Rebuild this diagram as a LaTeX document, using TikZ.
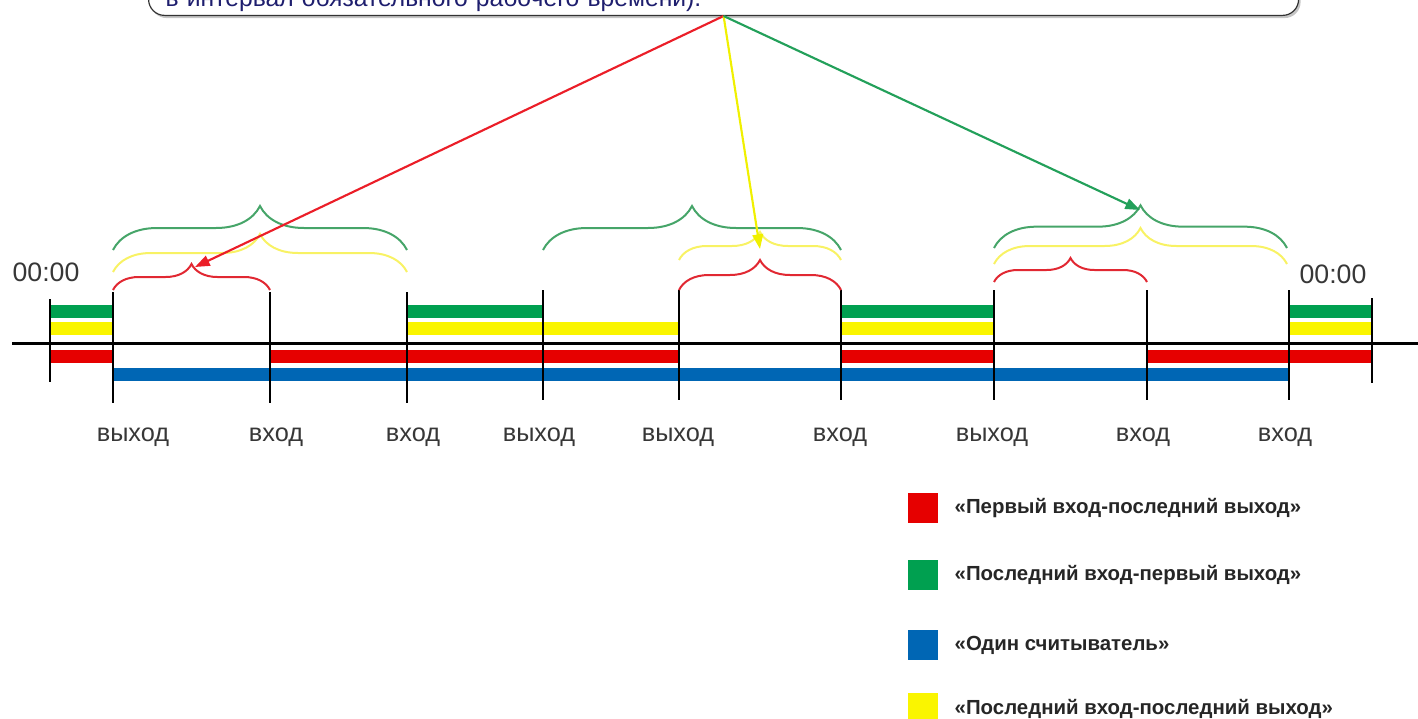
\documentclass[tikz,border=0pt]{standalone}
\usepackage{fontspec}
\setmainfont{Liberation Sans}
\usepackage{tikz}
\usetikzlibrary{arrows.meta, decorations.pathreplacing, shadows}
\usepackage{xcolor}

\definecolor{barred}{RGB}{230,0,0}
\definecolor{bargreen}{RGB}{0,160,80}
\definecolor{baryellow}{RGB}{250,245,0}
\definecolor{barblue}{RGB}{0,102,180}
\definecolor{brgreen}{RGB}{70,165,105}
\definecolor{bryellow}{RGB}{248,242,100}
\definecolor{brred}{RGB}{225,40,50}
\definecolor{arrgreen}{RGB}{35,160,90}
\definecolor{arryellow}{RGB}{240,240,0}
\definecolor{arrred}{RGB}{235,30,40}
\definecolor{notetext}{RGB}{30,30,110}
\definecolor{labelgray}{RGB}{55,55,55}

\begin{document}
\begin{tikzpicture}[
    x=0.75pt, y=-0.75pt,
    bar/.style={line width=9.75pt},
    tick/.style={line width=2.2pt, black},
    curly/.style={decorate, decoration={brace, amplitude=#1}, line width=1.5pt},
    arrow/.style={-{Triangle[length=11pt, width=8pt]}, line width=1.6pt},
    lbl/.style={font=\fontsize{19}{21}\selectfont, text=labelgray},
    clock/.style={font=\fontsize{20}{22}\selectfont, text=labelgray},
    legend/.style={font=\bfseries\fontsize{15.3}{17}\selectfont, text=black!85, anchor=west},
    swatch/.style={minimum size=22.5pt, inner sep=0pt},
    notebox/.style={
        draw=black!80,
        line width=0.9pt,
        fill=white,
        rounded corners=12pt,
        drop shadow={shadow xshift=1.5pt, shadow yshift=-2pt, fill=black!45},
        anchor=south west,
        text width=837pt,
        align=left,
        inner xsep=12.75pt,
        inner ysep=3.25pt,
        text height=40pt,
        text depth=3.5pt,
        font=\fontsize{18.5}{20}\selectfont,
        text=notetext
    }
]
\clip (0,0) rectangle (1418,718);

% Note at the top (cut by the page)
\node[notebox] (note) at (148,16) {в интервал обязательного рабочего времени).};

% Bars
\draw[bar, bargreen] (50,311) -- (113,311);
\draw[bar, bargreen] (407,311) -- (543,311);
\draw[bar, bargreen] (841,311) -- (994,311);
\draw[bar, bargreen] (1289,311) -- (1372,311);

\draw[bar, baryellow] (50,328) -- (113,328);
\draw[bar, baryellow] (407,328) -- (679,328);
\draw[bar, baryellow] (841,328) -- (994,328);
\draw[bar, baryellow] (1289,328) -- (1372,328);

\draw[bar, barred] (50,356) -- (113,356);
\draw[bar, barred] (270,356) -- (679,356);
\draw[bar, barred] (841,356) -- (994,356);
\draw[bar, barred] (1147,356) -- (1372,356);

\draw[bar, barblue] (113,374) -- (1289,374);

% Time axis
\draw[line width=2.25pt] (12,343) -- (1418,343);

% Ticks
\draw[tick] (50,299) -- (50,382);
\draw[tick] (113,292) -- (113,403);
\draw[tick] (270,292) -- (270,403);
\draw[tick] (407,292) -- (407,403);
\draw[tick] (543,290) -- (543,400);
\draw[tick] (679,290) -- (679,400);
\draw[tick] (841,290) -- (841,400);
\draw[tick] (994,290) -- (994,400);
\draw[tick] (1147,290) -- (1147,400);
\draw[tick] (1289,290) -- (1289,400);
\draw[tick] (1372,298) -- (1372,383);

% Braces
\draw[curly=33pt, brgreen] (113,250) -- (407,250);
\draw[curly=33pt, brgreen] (543,250) -- (841,250);
\draw[curly=32pt, brgreen] (994,248) -- (1287,248);

\draw[curly=28.5pt, bryellow] (113,272) -- (407,272);
\draw[curly=21pt, bryellow] (679,260) -- (841,260);
\draw[curly=27pt, bryellow] (994,264) -- (1287,264);

\draw[curly=19.5pt, brred] (113,290) -- (270,290);
\draw[curly=22.5pt, brred] (679,290) -- (841,290);
\draw[curly=18pt, brred] (994,282) -- (1147,282);

\coordinate (redtip) at (195,267);
\coordinate (yellowtip) at (760,249);
\coordinate (greentip) at (1140,210);

% Arrows
\draw[arrow, arrred] (note.south) -- (redtip);
\draw[arrow, arryellow] (note.south) -- (yellowtip);
\draw[arrow, arrgreen] (note.south) -- (greentip);

% Midnight marks
\node[clock] (start) at (46,272) {00:00};
\node[clock] (finish) at (1333,274) {00:00};

% Labels
\node[lbl] (l1) at (133,437) {выход};
\node[lbl] (l2) at (276,437) {вход};
\node[lbl] (l3) at (413,437) {вход};
\node[lbl] (l4) at (539,437) {выход};
\node[lbl] (l5) at (678,437) {выход};
\node[lbl] (l6) at (840,437) {вход};
\node[lbl] (l7) at (992,437) {выход};
\node[lbl] (l8) at (1143,437) {вход};
\node[lbl] (l9) at (1285,437) {вход};

% Legend
\node[swatch, fill=barred] (kred) at (923,508) {};
\node[swatch, fill=bargreen] (kgreen) at (923,575) {};
\node[swatch, fill=barblue] (kblue) at (923,645) {};
\node[swatch, fill=baryellow] (kyellow) at (923,708) {};

\node[legend] (tred) at (950,508) {«Первый вход-последний выход»};
\node[legend] (tgreen) at (950,575) {«Последний вход-первый выход»};
\node[legend] (tblue) at (950,645) {«Один считыватель»};
\node[legend] (tyellow) at (950,709) {«Последний вход-последний выход»};

\end{tikzpicture}
\end{document}
